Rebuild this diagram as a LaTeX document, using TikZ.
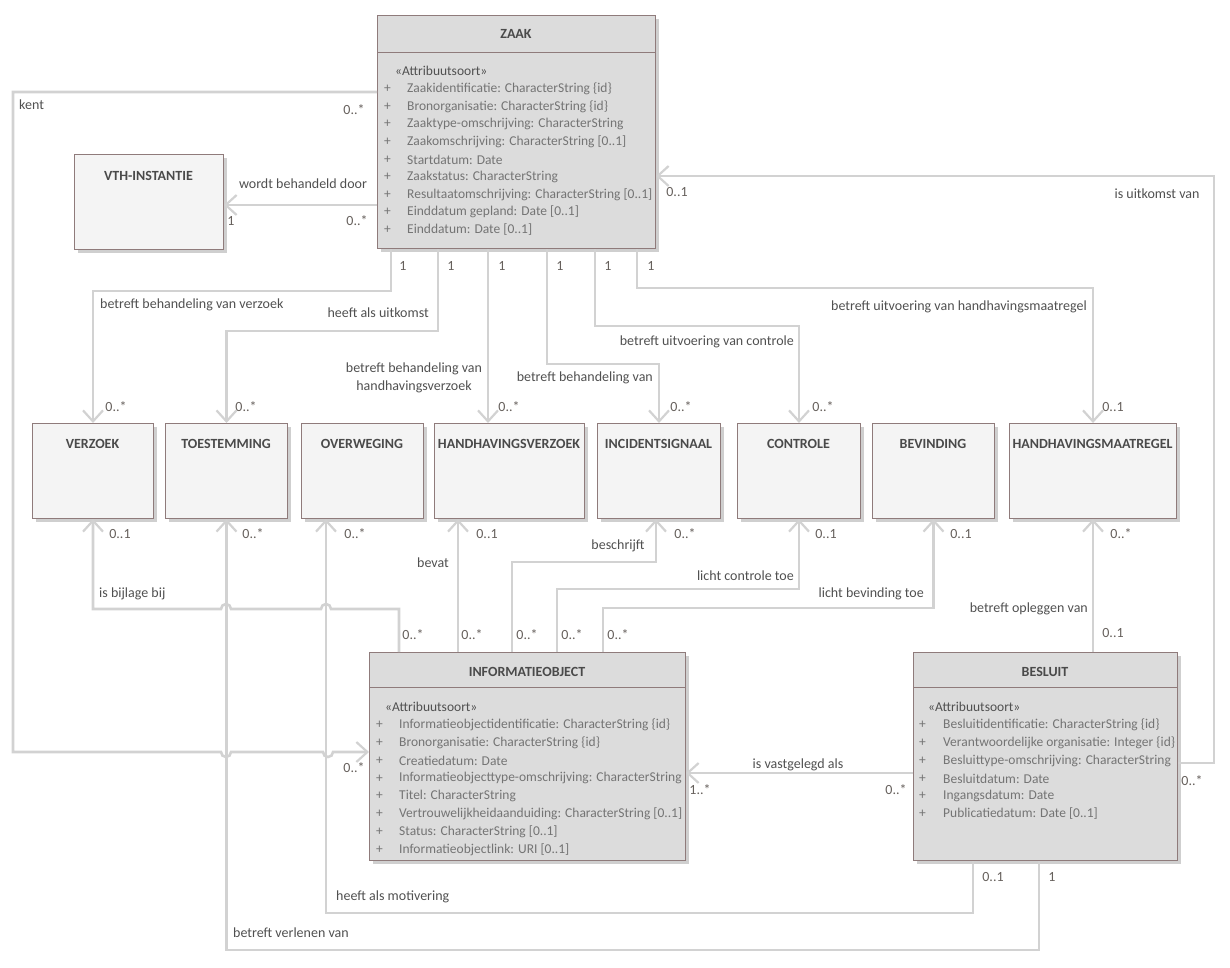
\documentclass[tikz,border=0pt]{standalone}
\usepackage{fontspec}
\setmainfont{Carlito}
\usetikzlibrary{arrows.meta,calc,shadows}
\definecolor{linegray}{HTML}{D2D2D2}
\definecolor{bordercol}{HTML}{8F7B7B}
\definecolor{darkfill}{HTML}{DCDCDC}
\definecolor{lightfill}{HTML}{F4F4F4}
\definecolor{shadowcol}{HTML}{CFCFCF}
\definecolor{titlecol}{HTML}{4A4A4A}
\definecolor{attrcol}{HTML}{747474}
\definecolor{labelcol}{HTML}{505050}
\definecolor{multcol}{HTML}{66605C}
\tikzset{
  cls/.style={draw=bordercol, line width=1pt, anchor=north west, inner sep=0pt,
    drop shadow={shadow xshift=3pt, shadow yshift=-3pt, fill=shadowcol, opacity=1}},
  bigcls/.style={cls, fill=darkfill},
  smallcls/.style={cls, fill=lightfill, minimum height=95pt},
  ttl/.style={font=\fontsize{14}{17}\selectfont\bfseries, text=titlecol, inner sep=0pt},
  attr/.style={font=\fontsize{13.5}{16}\selectfont, text=attrcol, anchor=west, inner sep=0pt},
  stereo/.style={attr, text=labelcol},
  lbl/.style={font=\fontsize{14}{17}\selectfont, text=labelcol, inner sep=0pt},
  mult/.style={lbl, text=multcol},
  assoc/.style={draw=linegray, line width=2.6pt},
  arr/.style={assoc, -{Straight Barb[length=11pt, width=20pt, line width=2.2pt]}}
}
\newcommand{\attrrow}[5]{%
  \node[attr] (#1p) at (#2,#4) {+};
  \node[attr] (#1) at (#3,#4) {#5};}
\begin{document}
\begin{tikzpicture}[x=1pt,y=-1pt]
\useasboundingbox (0,0) rectangle (1230,967);

% ---------- classes ----------
\node[bigcls, minimum width=278pt, minimum height=233pt] (zaak) at (377,15) {};
\draw[draw=bordercol, line width=1pt] ($(zaak.north west)+(0,37)$) -- ($(zaak.north east)+(0,37)$);
\node[ttl] (zaak-t) at (516,34) {ZAAK};
\node[stereo] (zaak-s) at (395,71) {«Attribuutsoort»};
\attrrow{za1}{384}{407}{89}{Zaakidentificatie: CharacterString \{id\}}
\attrrow{za2}{384}{407}{106.6}{Bronorganisatie: CharacterString \{id\}}
\attrrow{za3}{384}{407}{124.2}{Zaaktype-omschrijving: CharacterString}
\attrrow{za4}{384}{407}{141.8}{Zaakomschrijving: CharacterString [0..1]}
\attrrow{za5}{384}{407}{159.4}{Startdatum: Date}
\attrrow{za6}{384}{407}{177}{Zaakstatus: CharacterString}
\attrrow{za7}{384}{407}{194.6}{Resultaatomschrijving: CharacterString [0..1]}
\attrrow{za8}{384}{407}{212.2}{Einddatum gepland: Date [0..1]}
\attrrow{za9}{384}{407}{229.8}{Einddatum: Date [0..1]}

\node[smallcls, minimum width=149pt] (vth) at (74,154) {};
\node[ttl] (vth-t) at (148.5,176) {VTH-INSTANTIE};

\node[smallcls, minimum width=121pt] (verzoek) at (32,423) {};
\node[ttl] (verzoek-t) at (92.5,444) {VERZOEK};
\node[smallcls, minimum width=122pt] (toest) at (165,423) {};
\node[ttl] (toest-t) at (226,444) {TOESTEMMING};
\node[smallcls, minimum width=122pt] (overw) at (301,423) {};
\node[ttl] (overw-t) at (362,444) {OVERWEGING};
\node[smallcls, minimum width=150pt] (hv) at (434,423) {};
\node[ttl] (hv-t) at (509,444) {HANDHAVINGSVERZOEK};
\node[smallcls, minimum width=123pt] (incid) at (597,423) {};
\node[ttl] (incid-t) at (658.5,444) {INCIDENTSIGNAAL};
\node[smallcls, minimum width=123pt] (controle) at (737,423) {};
\node[ttl] (controle-t) at (798.5,444) {CONTROLE};
\node[smallcls, minimum width=122pt] (bevinding) at (872,423) {};
\node[ttl] (bevinding-t) at (933,444) {BEVINDING};
\node[smallcls, minimum width=167pt] (hm) at (1009,423) {};
\node[ttl] (hm-t) at (1092.5,444) {HANDHAVINGSMAATREGEL};

\node[bigcls, minimum width=316pt, minimum height=208pt] (info) at (369,652) {};
\draw[draw=bordercol, line width=1pt] ($(info.north west)+(0,35)$) -- ($(info.north east)+(0,35)$);
\node[ttl] (info-t) at (527,672) {INFORMATIEOBJECT};
\node[stereo] (info-s) at (385,707) {«Attribuutsoort»};
\attrrow{ia1}{376}{399}{725}{Informatieobjectidentificatie: CharacterString \{id\}}
\attrrow{ia2}{376}{399}{742.8}{Bronorganisatie: CharacterString \{id\}}
\attrrow{ia3}{376}{399}{760.6}{Creatiedatum: Date}
\attrrow{ia4}{376}{399}{778.4}{Informatieobjecttype-omschrijving: CharacterString}
\attrrow{ia5}{376}{399}{796.2}{Titel: CharacterString}
\attrrow{ia6}{376}{399}{814}{Vertrouwelijkheidaanduiding: CharacterString [0..1]}
\attrrow{ia7}{376}{399}{831.8}{Status: CharacterString [0..1]}
\attrrow{ia8}{376}{399}{849.6}{Informatieobjectlink: URI [0..1]}

\node[bigcls, minimum width=264pt, minimum height=208pt] (besluit) at (913,652) {};
\draw[draw=bordercol, line width=1pt] ($(besluit.north west)+(0,35)$) -- ($(besluit.north east)+(0,35)$);
\node[ttl] (besluit-t) at (1045,672) {BESLUIT};
\node[stereo] (besluit-s) at (928,707) {«Attribuutsoort»};
\attrrow{ba1}{919}{943}{725}{Besluitidentificatie: CharacterString \{id\}}
\attrrow{ba2}{919}{943}{742.8}{Verantwoordelijke organisatie: Integer \{id\}}
\attrrow{ba3}{919}{943}{760.6}{Besluittype-omschrijving: CharacterString}
\attrrow{ba4}{919}{943}{778.4}{Besluitdatum: Date}
\attrrow{ba5}{919}{943}{796.2}{Ingangsdatum: Date}
\attrrow{ba6}{919}{943}{814}{Publicatiedatum: Date [0..1]}

% ---------- connectors ----------
% kent
\draw[arr] ($(zaak.north west)+(0,77)$) -- (13,92) -- (13,752) -- (221,752)
  arc[start angle=180, end angle=0, radius=5] -- (323,752)
  arc[start angle=180, end angle=0, radius=5] -- ($(info.north west)+(0,100)$);
% wordt behandeld door
\draw[arr] ($(zaak.north west)+(0,190)$) -- ($(vth.north east)+(0,51)$);
% from ZAAK bottom
\draw[arr] ($(zaak.south west)+(14,0)$) -- ++(0,42) -| (verzoek.north);
\draw[arr] ($(zaak.south west)+(61,0)$) -- ++(0,82) -| (toest.north);
\draw[arr] ($(zaak.south west)+(111,0)$) -- ($(hv.north west)+(54,0)$);
\draw[arr] ($(zaak.south west)+(170,0)$) -- ++(0,115) -| (incid.north);
\draw[arr] ($(zaak.south west)+(218,0)$) -- ++(0,77) -| (controle.north);
\draw[arr] ($(zaak.south west)+(260,0)$) -- ++(0,39) -| (hm.north);
% is uitkomst van
\draw[arr] ($(besluit.north east)+(0,111)$) -- ++(36,0) |- ($(zaak.north east)+(0,161)$);
% from INFORMATIEOBJECT top
\draw[arr] ($(info.north west)+(30,0)$) -- (399,609) -- (331,609)
  arc[start angle=0, end angle=-180, radius=5] -- (231,609)
  arc[start angle=0, end angle=-180, radius=5] -- (verzoek.south |- 0,609) -- (verzoek.south);
\draw[arr] ($(info.north west)+(89,0)$) -- ($(hv.south west)+(24,0)$);
\draw[arr] ($(info.north west)+(143,0)$) -- ++(0,-90) -| ($(incid.south west)+(59,0)$);
\draw[arr] ($(info.north west)+(188,0)$) -- ++(0,-63) -| (controle.south);
\draw[arr] ($(info.north west)+(234,0)$) -- ++(0,-44) -| (bevinding.south);
% betreft opleggen van
\draw[arr] (besluit.north -| hm.south) -- (hm.south);
% is vastgelegd als
\draw[arr] ($(besluit.north west)+(0,121)$) -- ($(info.north east)+(0,121)$);
% heeft als motivering
\draw[arr] ($(besluit.south west)+(60,0)$) -- ++(0,52) -| (overw.south -| 326,0);
% betreft verlenen van
\draw[arr] ($(besluit.south west)+(126,0)$) -- ++(0,89) -| (toest.south);

% ---------- labels ----------
\node[lbl, anchor=west] (l-kent) at (19,105) {kent};
\node[mult] (m-kent1) at (354,110) {0..*};
\node[mult] (m-kent2) at (354,768) {0..*};
\node[lbl] (l-wbd) at (303,184) {wordt behandeld door};
\node[mult] (m-wbd1) at (231,221) {1};
\node[mult] (m-wbd2) at (357,221) {0..*};

\node[mult] (m-z1) at (403,266) {1};
\node[mult] (m-z2) at (451,266) {1};
\node[mult] (m-z3) at (502,266) {1};
\node[mult] (m-z4) at (560,266) {1};
\node[mult] (m-z5) at (608,266) {1};
\node[mult] (m-z6) at (651,266) {1};

\node[lbl, anchor=west] (l-bbv) at (100,305) {betreft behandeling van verzoek};
\node[lbl, anchor=east] (l-hau) at (429,313) {heeft als uitkomst};
\node[lbl, align=center] (l-bbh) at (414,378) {betreft behandeling van\\[1pt]handhavingsverzoek};
\node[lbl, anchor=east] (l-bbi) at (653,378) {betreft behandeling van};
\node[lbl, anchor=east] (l-buc) at (794,342) {betreft uitvoering van controle};
\node[lbl, anchor=east] (l-buh) at (1087,307) {betreft uitvoering van handhavingsmaatregel};

\node[mult] (m-t1) at (116,407) {0..*};
\node[mult] (m-t2) at (246,407) {0..*};
\node[mult] (m-t3) at (509,407) {0..*};
\node[mult] (m-t4) at (681,407) {0..*};
\node[mult] (m-t5) at (823,407) {0..*};
\node[mult] (m-t6) at (1113,407) {0..1};

\node[mult] (m-iu1) at (677,192) {0..1};
\node[lbl] (l-iu) at (1157,194) {is uitkomst van};
\node[mult] (m-iu2) at (1192,781) {0..*};

\node[mult] (m-b1) at (120,534) {0..1};
\node[mult] (m-b2) at (253,534) {0..*};
\node[mult] (m-b3) at (355,534) {0..*};
\node[mult] (m-b4) at (487,534) {0..1};
\node[mult] (m-b5) at (685,534) {0..*};
\node[mult] (m-b6) at (826,534) {0..1};
\node[mult] (m-b7) at (961,534) {0..1};
\node[mult] (m-b8) at (1121,534) {0..*};

\node[lbl, anchor=west] (l-ibb) at (99,594) {is bijlage bij};
\node[lbl] (l-bevat) at (433,563) {bevat};
\node[lbl] (l-beschr) at (618,546) {beschrijft};
\node[lbl, anchor=east] (l-lct) at (794,576) {licht controle toe};
\node[lbl, anchor=east] (l-lbt) at (924,594) {licht bevinding toe};
\node[lbl, anchor=east] (l-bov) at (1088,609) {betreft opleggen van};
\node[mult] (m-bov) at (1113,633) {0..1};

\node[mult] (m-i1) at (413,635) {0..*};
\node[mult] (m-i2) at (472,635) {0..*};
\node[mult] (m-i3) at (527,635) {0..*};
\node[mult] (m-i4) at (572,635) {0..*};
\node[mult] (m-i5) at (618,635) {0..*};

\node[lbl] (l-iva) at (798,765) {is vastgelegd als};
\node[mult] (m-iva1) at (700,790) {1..*};
\node[mult] (m-iva2) at (896,790) {0..*};

\node[mult] (m-ham) at (993,877) {0..1};
\node[mult] (m-bvv) at (1052,877) {1};
\node[lbl, anchor=west] (l-ham) at (336,897) {heeft als motivering};
\node[lbl, anchor=west] (l-bvv) at (233,933) {betreft verlenen van};
\end{tikzpicture}
\end{document}
